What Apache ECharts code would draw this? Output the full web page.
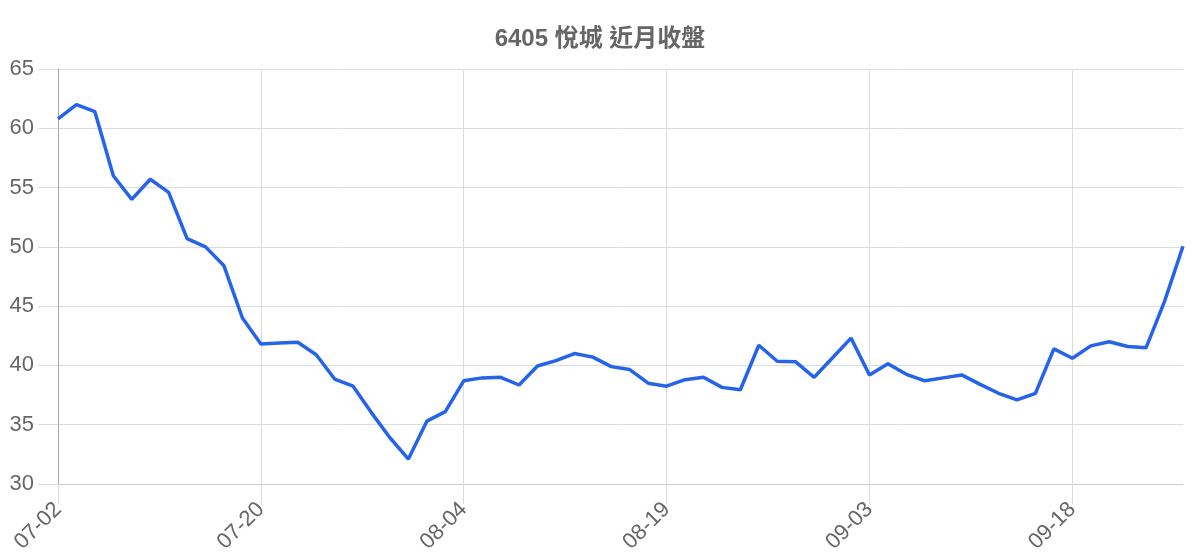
<!DOCTYPE html>
<html>
<head>
<meta charset="utf-8">
<script src="https://cdn.jsdelivr.net/npm/echarts@6/dist/echarts.min.js"></script>
<style>html,body{margin:0;padding:0;background:#fff}#c{width:1200px;height:560px}</style>
</head>
<body>
<div id="c"></div>
<script>
const titleText = '6405 悅城 近月收盤';
const dates = ['07-02','07-03','07-06','07-07','07-08','07-09','07-10','07-13','07-14','07-15','07-16',
  '07-20','07-21','07-22','07-23','07-24','07-27','07-28','07-29','07-30','07-31','08-03',
  '08-04','08-05','08-06','08-07','08-10','08-11','08-12','08-13','08-14','08-17','08-18',
  '08-19','08-20','08-21','08-24','08-25','08-26','08-27','08-28','08-31','09-01','09-02',
  '09-03','09-04','09-07','09-08','09-09','09-10','09-11','09-14','09-15','09-16','09-17',
  '09-18','09-21','09-22','09-23','09-24','09-25','09-28'];
const closePrices = [60.8,62.0,61.4,56.0,54.0,55.7,54.6,50.7,50.0,48.4,44.0,
  41.8,41.9,41.95,40.9,38.85,38.25,36.0,33.9,32.1,35.3,36.1,
  38.7,38.95,39.0,38.35,39.95,40.4,41.0,40.7,39.9,39.65,38.5,
  38.25,38.8,39.0,38.15,37.95,41.7,40.35,40.3,39.0,40.65,42.3,
  39.2,40.15,39.25,38.7,38.95,39.2,38.4,37.65,37.1,37.65,41.4,
  40.6,41.65,42.0,41.6,41.5,45.4,50.05];
const yTicks = {min: 30, max: 65, interval: 5};

const chart = echarts.init(document.getElementById('c'));
chart.setOption({
  animation: false,
  backgroundColor: '#fff',
  title: {
    text: titleText, left: 'center', top: 22,
    textStyle: {color: '#666', fontSize: 24, fontWeight: 'bold', fontFamily: 'Liberation Sans, Noto Sans CJK TC, sans-serif'}
  },
  grid: {left: 58, right: 17, top: 69, bottom: 76, containLabel: false},
  xAxis: {
    type: 'category', data: dates, boundaryGap: false,
    axisLine: {show: true, lineStyle: {color: '#c8c8c8', width: 1}},
    axisTick: {show: true, length: 20, interval: 10, alignWithLabel: true, lineStyle: {color: '#dcdcdc'}},
    splitLine: {show: true, interval: 10, lineStyle: {color: '#dcdcdc', width: 1}},
    axisLabel: {interval: 10, rotate: 45, margin: 22, color: '#666', fontSize: 22, fontFamily: 'Liberation Sans, sans-serif'}
  },
  yAxis: {
    type: 'value', min: yTicks.min, max: yTicks.max, interval: yTicks.interval,
    axisLine: {show: true, lineStyle: {color: '#a8a8a8', width: 1}},
    axisTick: {show: true, length: 20, lineStyle: {color: '#dcdcdc'}},
    splitLine: {show: true, lineStyle: {color: '#dcdcdc', width: 1}},
    axisLabel: {margin: 24, color: '#666', fontSize: 22, fontFamily: 'Liberation Sans, sans-serif'}
  },
  series: [{
    type: 'line', data: closePrices, showSymbol: false, symbol: 'none',
    lineStyle: {color: '#2563eb', width: 3.5}, itemStyle: {color: '#2563eb'}
  }]
});
</script>
</body>
</html>
